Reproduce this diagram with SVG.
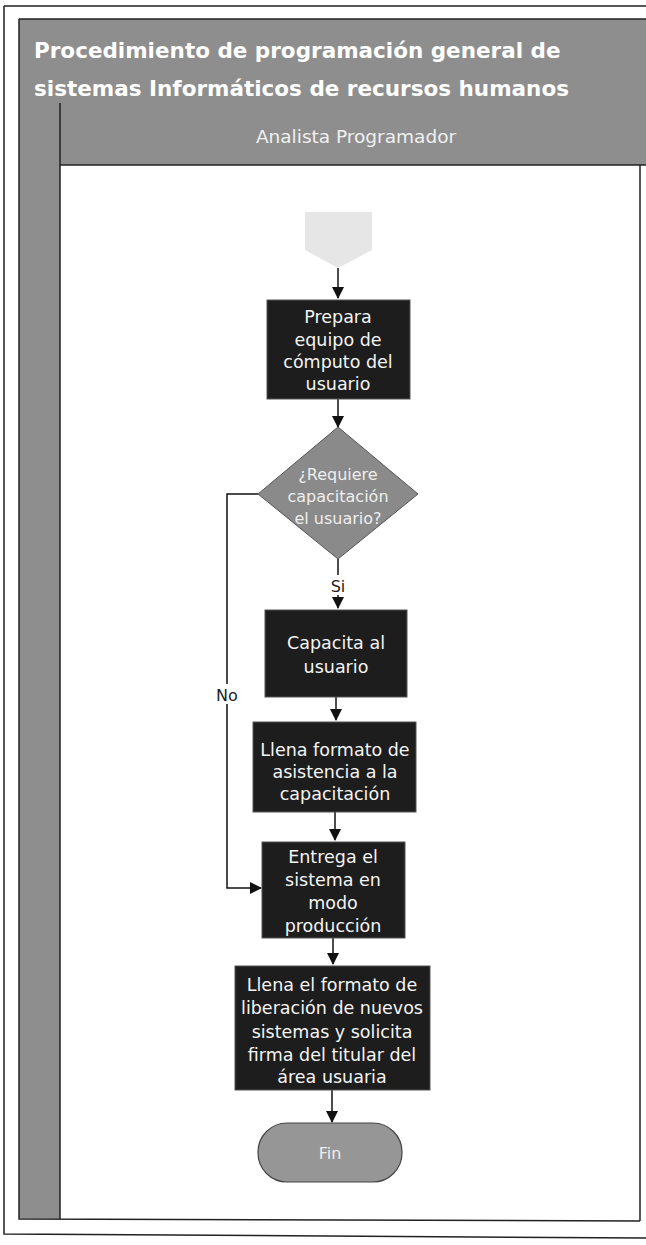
<svg xmlns="http://www.w3.org/2000/svg" width="646" height="1245" viewBox="0 0 646 1245">
<defs>
<marker id="arr" markerWidth="12" markerHeight="12" refX="11" refY="6" orient="auto" markerUnits="userSpaceOnUse">
<path d="M0,0 L12,6 L0,12 Z" fill="#111"/>
</marker>
</defs>
<style>
.frame{fill:none;stroke:#222;stroke-width:1.5}
.band{fill:#8e8e8e}
.box{fill:#1d1d1d;stroke:#555;stroke-width:1}
.bt{font-family:"DejaVu Sans",sans-serif;font-size:17.5px;fill:#f4f4f4;text-anchor:middle}
.dt{font-family:"DejaVu Sans",sans-serif;font-size:16px;fill:#eeeeee;text-anchor:middle}
.title{font-family:"DejaVu Sans",sans-serif;font-weight:bold;font-size:21.5px;fill:#ffffff}
.lane{font-family:"DejaVu Sans",sans-serif;font-size:18.5px;fill:#f0f0f0;text-anchor:middle}
.lbl{font-family:"DejaVu Sans",sans-serif;font-size:16px;fill:#222;text-anchor:middle}
.con{fill:none;stroke:#111;stroke-width:1.5}
</style>
<rect x="0" y="0" width="646" height="1245" fill="#ffffff"/>
<g id="page">
<path class="frame" d="M4,6 L646,6 M4,6 L4,1234 L646,1238"/>
<rect class="band" x="19" y="19" width="627" height="146"/>
<rect class="band" x="19" y="165" width="41" height="1054"/>
<path class="frame" d="M19,19 L646,19 M19,19 L19,1219 L640,1221 M60,103 L60,1219 M60,165 L646,165 M640,165 L640,1221"/>
<text class="title" x="34" y="58">Procedimiento de programación general de</text>
<text class="title" x="34" y="96">sistemas Informáticos de recursos humanos</text>
<text class="lane" x="356" y="143">Analista Programador</text>
</g>
<g id="connectors">
<line class="con" x1="338" y1="268" x2="338" y2="298" marker-end="url(#arr)"/>
<line class="con" x1="338" y1="399" x2="338" y2="427" marker-end="url(#arr)"/>
<line class="con" x1="338" y1="559" x2="338" y2="608" marker-end="url(#arr)"/>
<line class="con" x1="336" y1="697" x2="336" y2="720" marker-end="url(#arr)"/>
<line class="con" x1="335" y1="812" x2="335" y2="840" marker-end="url(#arr)"/>
<line class="con" x1="333" y1="938" x2="333" y2="964" marker-end="url(#arr)"/>
<line class="con" x1="332" y1="1090" x2="332" y2="1122" marker-end="url(#arr)"/>
<path class="con" d="M258,494 L227,494 L227,888 L261,888" marker-end="url(#arr)"/>
<rect x="212" y="684" width="30" height="20" fill="#ffffff"/>
<text class="lbl" x="227" y="701">No</text>
<rect x="329" y="575" width="18" height="20" fill="#ffffff"/>
<text class="lbl" x="338" y="592">Si</text>
</g>
<g id="inicio">
<polygon points="305,212 372,212 372,250 338,268 305,250" fill="#e6e6e6"/>
</g>
<g id="prepara">
<rect class="box" x="267" y="300" width="143" height="99"/>
<text class="bt" x="338" y="323">Prepara</text>
<text class="bt" x="338" y="346">equipo de</text>
<text class="bt" x="338" y="368">cómputo del</text>
<text class="bt" x="338" y="390">usuario</text>
</g>
<g id="decision">
<polygon points="338,427 418,494 338,559 258,494" fill="#8a8a8a" stroke="#555" stroke-width="1"/>
<text class="dt" x="338" y="480">¿Requiere</text>
<text class="dt" x="338" y="502">capacitación</text>
<text class="dt" x="338" y="524">el usuario?</text>
</g>
<g id="capacita">
<rect class="box" x="265" y="610" width="142" height="87"/>
<text class="bt" x="336" y="649">Capacita al</text>
<text class="bt" x="336" y="673">usuario</text>
</g>
<g id="llena-asistencia">
<rect class="box" x="253" y="722" width="163" height="90"/>
<text class="bt" x="335" y="756">Llena formato de</text>
<text class="bt" x="335" y="778">asistencia a la</text>
<text class="bt" x="335" y="800">capacitación</text>
</g>
<g id="entrega">
<rect class="box" x="262" y="842" width="143" height="96"/>
<text class="bt" x="333" y="863">Entrega el</text>
<text class="bt" x="333" y="886">sistema en</text>
<text class="bt" x="333" y="909">modo</text>
<text class="bt" x="333" y="932">producción</text>
</g>
<g id="llena-liberacion">
<rect class="box" x="235" y="966" width="195" height="124"/>
<text class="bt" x="332" y="991">Llena el formato de</text>
<text class="bt" x="332" y="1014">liberación de nuevos</text>
<text class="bt" x="332" y="1038">sistemas y solicita</text>
<text class="bt" x="332" y="1061">firma del titular del</text>
<text class="bt" x="332" y="1083">área usuaria</text>
</g>
<g id="fin">
<rect x="258" y="1123" width="144" height="59" rx="29" ry="29" fill="#969696" stroke="#444" stroke-width="1.2"/>
<text class="dt" x="330" y="1159">Fin</text>
</g>
</svg>
